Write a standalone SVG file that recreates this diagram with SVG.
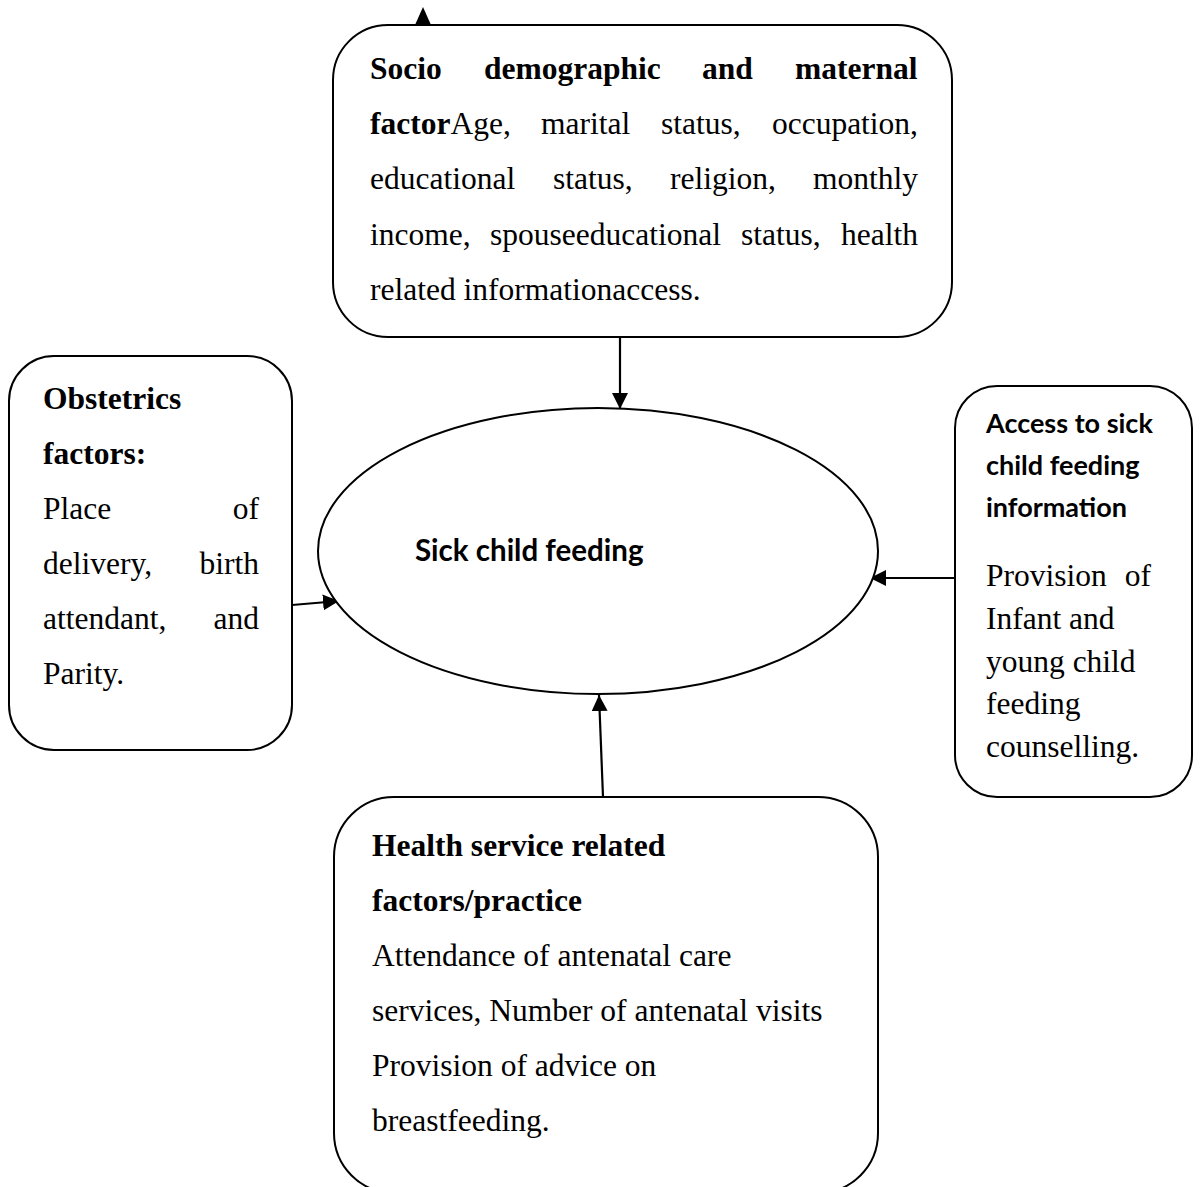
<svg xmlns="http://www.w3.org/2000/svg" width="1200" height="1187" viewBox="0 0 1200 1187">
<style>
.box{fill:#fff;stroke:#000;stroke-width:2}
.serif{font-family:"Liberation Serif","Times New Roman",serif;font-size:31.5px;fill:#000}
.b{font-weight:bold}
.sans{font-family:Lato,"Open Sans",sans-serif;font-weight:bold;fill:#000}
.conn{stroke:#000;stroke-width:2.2;fill:none;marker-end:url(#arr)}
</style>
<defs>
<marker id="arr" markerUnits="userSpaceOnUse" markerWidth="16" markerHeight="16" viewBox="0 0 16 16" refX="16" refY="8" orient="auto">
<path d="M0,0 L16,8 L0,16 z" fill="#000"/>
</marker>
</defs>
<g id="connectors">
<line class="conn" x1="620" y1="337" x2="620" y2="409"/>
<line class="conn" x1="603" y1="797" x2="599" y2="695"/>
<line class="conn" x1="292" y1="605" x2="339" y2="601"/>
<line class="conn" x1="955" y1="578" x2="870" y2="578"/>
<polygon points="423,7 415,25 431,25" fill="#000"/>
</g>
<g id="node-socio">
<rect class="box" x="333" y="25" width="619" height="312" rx="55" ry="55"/>
<text class="serif b" y="79"><tspan x="370">Socio</tspan><tspan x="484">demographic</tspan><tspan x="702">and</tspan><tspan x="795">maternal</tspan></text>
<text class="serif" y="134"><tspan x="370" font-weight="bold">factor</tspan><tspan>Age,</tspan><tspan x="541">marital</tspan><tspan x="661">status,</tspan><tspan x="918" text-anchor="end">occupation,</tspan></text>
<text class="serif" y="189"><tspan x="370">educational</tspan><tspan x="553">status,</tspan><tspan x="670">religion,</tspan><tspan x="918" text-anchor="end">monthly</tspan></text>
<text class="serif" y="245"><tspan x="370">income,</tspan><tspan x="490">spouseeducational</tspan><tspan x="741">status,</tspan><tspan x="918" text-anchor="end">health</tspan></text>
<text class="serif" x="370" y="300">related informationaccess.</text>
</g>
<g id="node-obstetrics">
<rect class="box" x="9" y="356" width="283" height="394" rx="45" ry="45"/>
<text class="serif b" x="43" y="409">Obstetrics</text>
<text class="serif b" x="43" y="464">factors:</text>
<text class="serif" y="519"><tspan x="43">Place</tspan><tspan x="259" text-anchor="end">of</tspan></text>
<text class="serif" y="574"><tspan x="43">delivery,</tspan><tspan x="259" text-anchor="end">birth</tspan></text>
<text class="serif" y="629"><tspan x="43">attendant,</tspan><tspan x="259" text-anchor="end">and</tspan></text>
<text class="serif" x="43" y="684">Parity.</text>
</g>
<g id="node-center">
<ellipse class="box" cx="598" cy="551" rx="280" ry="143"/>
<text class="sans" x="415" y="561" font-size="29.5">Sick child feeding</text>
</g>
<g id="node-access">
<rect class="box" x="955" y="386" width="237" height="411" rx="42" ry="42"/>
<text class="sans" x="986" y="433" font-size="27">Access to sick</text>
<text class="sans" x="986" y="475" font-size="27">child feeding</text>
<text class="sans" x="986" y="517" font-size="27">information</text>
<text class="serif" y="586"><tspan x="986">Provision</tspan><tspan x="1151" text-anchor="end">of</tspan></text>
<text class="serif" x="986" y="629">Infant and</text>
<text class="serif" x="986" y="672">young child</text>
<text class="serif" x="986" y="714">feeding</text>
<text class="serif" x="986" y="757">counselling.</text>
</g>
<g id="node-health">
<rect class="box" x="334" y="797" width="544" height="396" rx="60" ry="60"/>
<text class="serif b" x="372" y="856">Health service related</text>
<text class="serif b" x="372" y="911">factors/practice</text>
<text class="serif" x="372" y="966">Attendance of antenatal care</text>
<text class="serif" x="372" y="1021">services, Number of antenatal visits</text>
<text class="serif" x="372" y="1076">Provision of advice on</text>
<text class="serif" x="372" y="1131">breastfeeding.</text>
</g>
</svg>
